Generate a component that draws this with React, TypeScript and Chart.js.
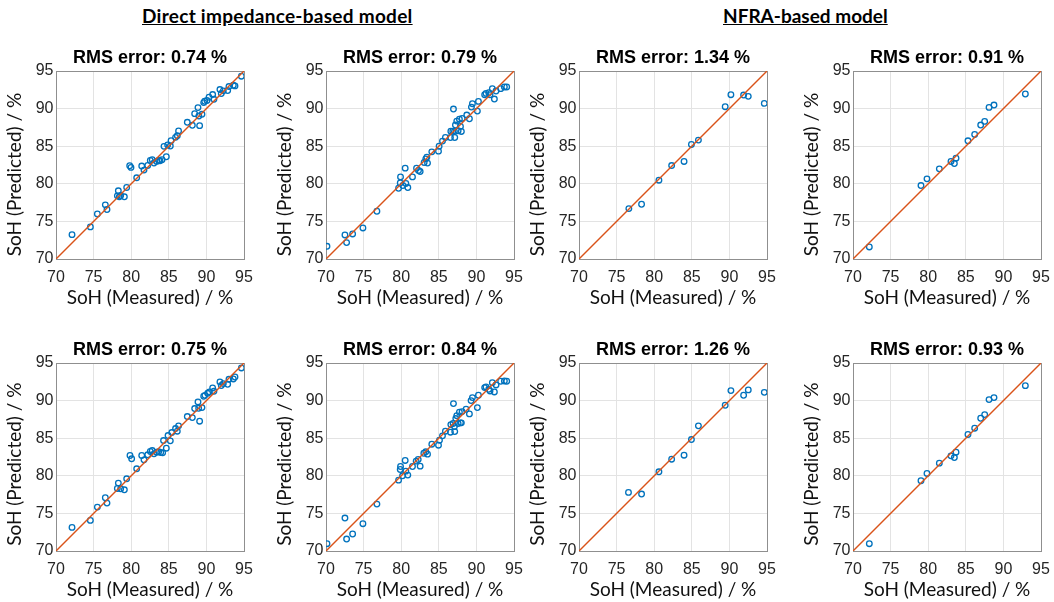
import React, { useEffect, useRef } from "react";
import { Chart, registerables } from "chart.js";

Chart.register(...registerables);

// ---------------- Data ----------------
const axisTicks = [70, 75, 80, 85, 90, 95];
const diagonal = [70, 95];

const headerLeft = "Direct impedance-based model";
const headerRight = "NFRA-based model";

const rmsTitles = [
  "RMS error: 0.74 %",
  "RMS error: 0.79 %",
  "RMS error: 1.34 %",
  "RMS error: 0.91 %",
  "RMS error: 0.75 %",
  "RMS error: 0.84 %",
  "RMS error: 1.26 %",
  "RMS error: 0.93 %",
];

const xTitle = "SoH (Measured) / %";
const yTitle = "SoH (Predicted) / %";

// Panel 1: direct impedance (top-left)
const p1Measured = [72.13, 74.57, 75.5, 76.56, 76.78, 78.29, 78.16, 78.42, 78.6, 79.09, 79.4, 79.8, 79.97, 80.73, 81.4, 81.7, 82.2, 82.54, 82.8, 83.03, 83.38, 83.65, 83.83, 84.1, 84.36, 84.67, 84.85, 85.2, 85.3, 85.9, 86.13, 86.3, 87.46, 88.13, 88.44, 88.88, 89.0, 89.1, 89.41, 89.64, 89.77, 90.08, 90.35, 90.83, 91.0, 91.8, 91.98, 92.25, 92.83, 93.0, 93.58, 93.8, 94.65];
const p1Predicted = [73.24, 74.27, 76.0, 77.2, 76.58, 79.07, 78.4, 78.27, 78.44, 78.27, 79.51, 82.4, 82.18, 80.8, 82.36, 81.82, 82.44, 83.1, 83.2, 82.76, 82.98, 83.1, 83.07, 83.2, 84.98, 83.6, 85.16, 85.02, 85.73, 86.18, 86.4, 87.02, 88.18, 87.78, 89.33, 90.13, 89.02, 87.73, 89.24, 90.8, 90.98, 91.07, 91.51, 91.87, 91.24, 92.53, 92.0, 92.36, 92.4, 92.93, 93.1, 93.02, 94.31];

// Panel 2: direct impedance (top, second)
const p2Measured = [70.13, 72.52, 72.74, 73.54, 74.91, 76.77, 79.65, 79.87, 79.91, 80.22, 80.53, 80.62, 80.88, 81.5, 82.04, 82.3, 82.52, 83.05, 83.27, 83.5, 83.41, 84.07, 84.96, 85.04, 85.49, 85.88, 86.55, 86.6, 86.86, 86.95, 87.12, 87.08, 87.21, 87.39, 87.57, 87.74, 87.88, 88.0, 88.1, 88.72, 89.07, 89.34, 89.47, 90.13, 90.27, 91.1, 91.28, 91.64, 91.81, 92.12, 92.39, 92.61, 93.23, 93.72, 94.03];
const p2Predicted = [71.69, 73.2, 72.18, 73.33, 74.13, 76.35, 79.41, 80.12, 80.92, 79.77, 82.08, 80.04, 79.5, 80.92, 82.08, 81.77, 81.63, 82.83, 83.32, 82.75, 83.54, 84.25, 84.34, 85.0, 85.68, 86.16, 86.16, 87.0, 87.0, 89.94, 86.16, 86.96, 87.81, 88.34, 87.05, 88.6, 87.63, 86.96, 88.69, 89.14, 88.65, 90.2, 90.65, 89.67, 90.96, 91.85, 92.02, 92.11, 91.85, 92.65, 91.27, 92.34, 92.65, 92.87, 92.87];

// Panel 3: NFRA (top, third)
const p3Measured = [76.63, 78.32, 80.63, 82.32, 83.97, 84.95, 85.88, 89.44, 90.2, 91.89, 92.51, 94.64];
const p3Predicted = [76.7, 77.28, 80.48, 82.43, 82.97, 85.23, 85.81, 90.25, 91.85, 91.8, 91.63, 90.69];

// Panel 4: NFRA (top-right)
const p4Measured = [72.17, 79.04, 79.84, 81.48, 83.03, 83.48, 83.7, 85.29, 86.18, 86.98, 87.51, 88.09, 88.75, 92.92];
const p4Predicted = [71.6, 79.77, 80.66, 81.99, 82.97, 82.7, 83.41, 85.72, 86.56, 87.81, 88.3, 90.16, 90.47, 91.94];

// Panel 5: direct impedance (bottom-left)
const p5Measured = [72.13, 74.57, 75.5, 76.56, 76.78, 78.29, 78.16, 78.6, 79.09, 79.4, 79.84, 80.06, 80.73, 81.4, 81.7, 82.2, 82.54, 82.8, 83.03, 83.38, 83.65, 83.92, 84.18, 84.3, 84.67, 84.9, 85.2, 85.4, 85.9, 86.13, 86.3, 87.46, 88.13, 88.44, 88.88, 88.97, 89.1, 89.41, 89.64, 89.8, 90.17, 90.4, 90.83, 91.0, 91.8, 91.98, 92.25, 92.83, 93.0, 93.58, 93.8, 94.65];
const p5Predicted = [73.14, 74.07, 75.84, 77.08, 76.37, 79.03, 78.32, 78.27, 78.14, 79.6, 82.7, 82.26, 80.93, 82.7, 82.12, 82.79, 83.23, 83.36, 82.92, 83.14, 83.19, 83.1, 83.05, 84.69, 83.67, 85.35, 84.65, 85.75, 86.28, 85.93, 86.64, 87.88, 87.74, 88.94, 89.82, 88.98, 87.26, 89.07, 90.58, 90.7, 90.97, 91.15, 91.68, 91.24, 92.48, 92.0, 92.26, 92.17, 92.83, 92.88, 93.14, 94.34];

// Panel 6: direct impedance (bottom, second)
const p6Measured = [70.13, 72.52, 72.74, 73.54, 74.91, 76.77, 79.65, 79.87, 79.91, 80.18, 80.53, 80.62, 80.88, 81.5, 81.99, 82.26, 82.52, 83.01, 83.27, 83.5, 84.07, 84.96, 85.09, 85.49, 85.88, 86.55, 86.6, 86.9, 86.95, 87.12, 87.08, 87.26, 87.39, 87.57, 87.74, 87.88, 88.0, 88.1, 88.63, 89.07, 89.29, 89.47, 90.13, 90.27, 91.1, 91.28, 91.64, 91.81, 92.12, 92.39, 92.61, 93.23, 93.72, 94.03];
const p6Predicted = [70.97, 74.38, 71.59, 72.26, 73.63, 76.24, 79.42, 80.84, 81.24, 80.0, 82.04, 80.62, 80.09, 81.24, 81.95, 82.17, 81.28, 83.0, 83.19, 82.88, 84.2, 84.07, 84.73, 85.31, 85.93, 85.8, 86.81, 86.95, 89.6, 85.88, 86.55, 87.61, 88.0, 86.95, 88.45, 87.04, 87.04, 88.54, 88.85, 88.23, 90.0, 90.4, 89.07, 90.71, 91.73, 91.81, 91.5, 91.28, 92.39, 91.15, 92.08, 92.57, 92.61, 92.57];

// Panel 7: NFRA (bottom, third)
const p7Measured = [76.58, 78.32, 80.63, 82.32, 83.97, 84.95, 85.88, 89.44, 90.2, 91.89, 92.51, 94.64];
const p7Predicted = [77.79, 77.57, 80.53, 82.21, 82.74, 84.82, 86.64, 89.38, 91.33, 90.71, 91.42, 91.1];

// Panel 8: NFRA (bottom-right)
const p8Measured = [72.17, 79.04, 79.84, 81.48, 83.03, 83.48, 83.7, 85.29, 86.18, 86.98, 87.51, 88.09, 88.75, 92.92];
const p8Predicted = [70.97, 79.34, 80.31, 81.68, 82.65, 82.43, 83.14, 85.49, 86.33, 87.65, 88.14, 90.13, 90.4, 91.99];

// ---------------- Layout ----------------
const PLOT = 188;
const AX_LEFT = 56;
const AX_RIGHT = 56;
const AX_TOP = 41;
const AX_BOTTOM = 52;

// ySpacer: trailing space that nudges the rotated y-title down as in the reference
const panels = [
  { title: rmsTitles[0], xs: p1Measured, ys: p1Predicted, left: 56, top: 71, ySpacer: "\u2002\u2002" },
  { title: rmsTitles[1], xs: p2Measured, ys: p2Predicted, left: 326, top: 71, ySpacer: "\u2002\u2002" },
  { title: rmsTitles[2], xs: p3Measured, ys: p3Predicted, left: 579, top: 71, ySpacer: "\u2002\u2002" },
  { title: rmsTitles[3], xs: p4Measured, ys: p4Predicted, left: 853, top: 71, ySpacer: "\u2002\u2002" },
  { title: rmsTitles[4], xs: p5Measured, ys: p5Predicted, left: 56, top: 363, ySpacer: "\u2002 " },
  { title: rmsTitles[5], xs: p6Measured, ys: p6Predicted, left: 326, top: 363, ySpacer: "\u2002 " },
  { title: rmsTitles[6], xs: p7Measured, ys: p7Predicted, left: 579, top: 363, ySpacer: "\u2002 " },
  { title: rmsTitles[7], xs: p8Measured, ys: p8Predicted, left: 853, top: 363, ySpacer: "\u2002 " },
];

const GRID = "#e3e3e3";
const BOX = "#8f8f8f";
const TICK_COLOR = "#262626";
const ARIAL = "'Liberation Sans', Arial, sans-serif";
const CALIBRI_LIKE = "Lato, 'Open Sans', sans-serif";

function Panel({ title, xs, ys, left, top, ySpacer }: any) {
  const ref = useRef<HTMLCanvasElement | null>(null);
  useEffect(() => {
    if (!ref.current) return;
    const pts = xs.map((x: number, i: number) => ({ x, y: ys[i] }));
    const diag = diagonal.map((v) => ({ x: v, y: v }));
    const lastTick = axisTicks[axisTicks.length - 1];
    const gridColor = (ctx: any) => (ctx.tick && ctx.tick.value === lastTick ? BOX : GRID);
    const chart = new Chart(ref.current, {
      type: "scatter",
      data: {
        datasets: [
          {
            type: "line",
            data: diag,
            borderColor: "#D95319",
            borderWidth: 1.4,
            pointRadius: 0,
            fill: false,
          } as any,
          {
            type: "scatter",
            data: pts,
            pointStyle: "circle",
            pointRadius: 2.8,
            borderWidth: 1.3,
            borderColor: "#0072BD",
            backgroundColor: "rgba(0,0,0,0)",
          } as any,
        ],
      },
      options: {
        animation: false,
        responsive: false,
        events: [],
        layout: { padding: 0 },
        plugins: {
          legend: { display: false },
          tooltip: { enabled: false },
          title: {
            display: true,
            text: title,
            color: "#000",
            font: { family: ARIAL, size: 18, weight: "bold" },
            padding: { top: 17, bottom: 2.4 },
          },
        },
        scales: {
          x: {
            type: "linear",
            min: axisTicks[0],
            max: lastTick,
            afterBuildTicks: (s: any) => {
              s.ticks = axisTicks.map((v) => ({ value: v }));
            },
            afterFit: (s: any) => {
              s.height = AX_BOTTOM;
            },
            ticks: {
              color: TICK_COLOR,
              font: { family: ARIAL, size: 16 },
              padding: 9,
              maxRotation: 0,
              autoSkip: false,
            },
            grid: { color: gridColor, drawTicks: false, lineWidth: 1 },
            border: { color: BOX, width: 1 },
            title: {
              display: true,
              text: xTitle,
              color: "#111",
              font: { family: CALIBRI_LIKE, size: 19 },
              padding: { top: 0, bottom: 1.6 },
            },
          },
          y: {
            type: "linear",
            position: "left",
            min: axisTicks[0],
            max: lastTick,
            afterBuildTicks: (s: any) => {
              s.ticks = axisTicks.map((v) => ({ value: v }));
            },
            afterFit: (s: any) => {
              s.width = AX_LEFT;
            },
            ticks: {
              color: TICK_COLOR,
              font: { family: ARIAL, size: 16 },
              padding: 2.5,
              autoSkip: false,
            },
            grid: { color: gridColor, drawTicks: false, lineWidth: 1 },
            border: { color: BOX, width: 1 },
            title: {
              display: true,
              text: yTitle + ySpacer,
              color: "#111",
              font: { family: CALIBRI_LIKE, size: 19 },
              padding: { top: 3.6, bottom: 0 },
            },
          },
          yRight: {
            type: "linear",
            position: "right",
            min: axisTicks[0],
            max: lastTick,
            afterFit: (s: any) => {
              s.width = AX_RIGHT;
            },
            ticks: { display: false },
            grid: { display: false, drawOnChartArea: false },
            border: { display: false },
            title: { display: false },
          },
        },
      } as any,
    });
    return () => chart.destroy();
  }, [title, xs, ys, ySpacer]);

  const w = AX_LEFT + PLOT + AX_RIGHT;
  const h = AX_TOP + PLOT + AX_BOTTOM;
  return (
    <canvas
      ref={ref}
      width={w}
      height={h}
      style={{ position: "absolute", left: left - AX_LEFT, top: top - AX_TOP, width: w, height: h }}
    />
  );
}

export default function App() {
  const headerStyle: any = {
    position: "absolute",
    top: 5.7,
    fontFamily: CALIBRI_LIKE,
    fontWeight: 700,
    fontSize: 19,
    lineHeight: "20px",
    color: "#000",
    textDecoration: "underline",
    whiteSpace: "nowrap",
  };
  return (
    <div
      style={{
        position: "fixed",
        left: 0,
        top: 0,
        width: 1054,
        height: 602,
        overflow: "hidden",
        background: "#fff",
      }}
    >
      <div style={{ ...headerStyle, left: 142, letterSpacing: "0.28px" }}>{headerLeft}</div>
      <div style={{ ...headerStyle, left: 723 }}>{headerRight}</div>
      {panels.map((p, i) => (
        <Panel key={i} {...p} />
      ))}
    </div>
  );
}
